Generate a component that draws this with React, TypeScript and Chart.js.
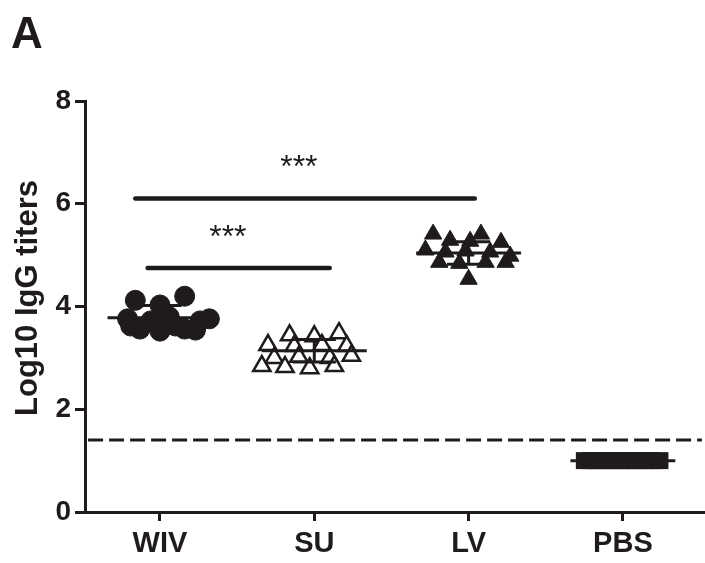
import React, { useEffect, useRef } from 'react';
import { Chart, registerables } from 'chart.js';

Chart.register(...registerables);

const categories = ['WIV', 'SU', 'LV', 'PBS'];
const yTicks = [0, 2, 4, 6, 8];

const wivValues = [4.12, 4.2, 4.03, 3.76, 3.72, 3.8, 3.72, 3.76, 3.56, 3.52, 3.56, 3.62, 3.54, 3.62];
const wivOffsets = [-0.16, 0.16, 0.0, -0.21, -0.06, 0.06, 0.26, 0.32, -0.13, 0.0, 0.16, -0.19, 0.23, 0.1];

const suValues = [3.44, 3.42, 3.48, 3.25, 3.23, 3.25, 3.23, 3.0, 3.02, 3.0, 3.04, 2.84, 2.82, 2.8, 2.84];
const suOffsets = [-0.16, 0.0, 0.16, -0.3, -0.13, 0.05, 0.21, -0.26, -0.1, 0.1, 0.24, -0.34, -0.19, -0.03, 0.13];

const lvValues = [5.41, 5.41, 5.29, 5.27, 5.25, 5.1, 5.06, 5.08, 5.06, 4.98, 4.86, 4.84, 4.86, 4.86, 4.53];
const lvOffsets = [-0.23, 0.08, -0.12, 0.01, 0.21, -0.28, -0.15, -0.02, 0.14, 0.27, -0.19, -0.06, 0.11, 0.24, 0.0];

const pbsValues = [1.0, 1.0, 1.0, 1.0, 1.0, 1.0, 1.0, 1.0, 1.0, 1.0, 1.0, 1.0, 1.0];
const pbsOffsets = [-0.25, -0.21, -0.17, -0.13, -0.09, -0.05, -0.01, 0.03, 0.07, 0.11, 0.15, 0.19, 0.24];

const groupMeans = [3.78, 3.14, 5.04, 1.0];
const groupSDs = [0.24, 0.22, 0.22, 0];

const detectionLimit = 1.4;

const compFrom = [0.84, 0.92];
const compTo = [3.04, 2.1];
const compY = [6.1, 4.75];
const compTextX = [1.9, 1.44];
const compLabels = ['***', '***'];

const X_MIN = 0.514;
const X_MAX = 4.532;
const INK = '#1f1b1c';
const FONT = '"Liberation Sans", Arial, Helvetica, sans-serif';

const textPlugin = {
  id: 'textPlugin',
  afterDraw(chart: any) {
    const ctx = chart.ctx;
    const xs = chart.scales.x;
    const ys = chart.scales.y;
    ctx.save();
    ctx.fillStyle = INK;
    ctx.font = `bold 44px ${FONT}`;
    ctx.textAlign = 'left';
    ctx.textBaseline = 'alphabetic';
    ctx.fillText('A', 11, 48);
    ctx.save();
    ctx.translate(37, 298);
    ctx.rotate(-Math.PI / 2);
    ctx.font = `bold 31px ${FONT}`;
    ctx.textAlign = 'center';
    ctx.textBaseline = 'alphabetic';
    ctx.fillText('Log10 IgG titers', 0, 0);
    ctx.restore();
    ctx.font = `32px ${FONT}`;
    ctx.textAlign = 'center';
    ctx.textBaseline = 'middle';
    for (let i = 0; i < compLabels.length; i++) {
      const px = xs.getPixelForValue(compTextX[i]);
      const py = ys.getPixelForValue(compY[i]) - 30;
      ctx.fillText(compLabels[i], px, py);
    }
    ctx.restore();
  },
};

function scatterData(values: number[], offsets: number[], idx: number) {
  return values.map((v, k) => ({ x: idx + 1 + offsets[k], y: v }));
}

export default function App() {
  const ref = useRef<HTMLCanvasElement | null>(null);
  useEffect(() => {
    if (!ref.current) return;
    const lineDs = (data: any[], extra: any = {}) => ({
      type: 'line',
      data,
      borderColor: INK,
      borderWidth: 3,
      pointRadius: 0,
      showLine: true,
      fill: false,
      order: 0,
      ...extra,
    });
    const datasets: any[] = [];
    groupMeans.forEach((m, i) => {
      const c = i + 1;
      datasets.push(lineDs([{ x: c - 0.34, y: m }, { x: c + 0.34, y: m }]));
      if (groupSDs[i] > 0) {
        datasets.push(lineDs([{ x: c, y: m - groupSDs[i] }, { x: c, y: m + groupSDs[i] }]));
        datasets.push(lineDs([{ x: c - 0.14, y: m + groupSDs[i] }, { x: c + 0.14, y: m + groupSDs[i] }]));
        datasets.push(lineDs([{ x: c - 0.14, y: m - groupSDs[i] }, { x: c + 0.14, y: m - groupSDs[i] }]));
      }
    });
    datasets.push(
      lineDs([{ x: X_MIN + 0.02, y: detectionLimit }, { x: X_MAX - 0.02, y: detectionLimit }], {
        borderDash: [15, 6],
        borderWidth: 3,
      })
    );
    compY.forEach((y, i) => {
      datasets.push(
        lineDs([{ x: compFrom[i], y }, { x: compTo[i], y }], { borderWidth: 4.5, borderCapStyle: 'round' })
      );
    });
    datasets.push({
      type: 'scatter',
      label: categories[0],
      data: scatterData(wivValues, wivOffsets, 0),
      pointStyle: 'circle',
      pointRadius: 10,
      backgroundColor: INK,
      borderColor: INK,
      borderWidth: 1,
      order: 1,
    });
    datasets.push({
      type: 'scatter',
      label: categories[1],
      data: scatterData(suValues, suOffsets, 1),
      pointStyle: 'triangle',
      pointRadius: 10,
      backgroundColor: '#ffffff',
      borderColor: INK,
      borderWidth: 2.5,
      order: 1,
    });
    datasets.push({
      type: 'scatter',
      label: categories[2],
      data: scatterData(lvValues, lvOffsets, 2),
      pointStyle: 'triangle',
      pointRadius: 10,
      backgroundColor: INK,
      borderColor: INK,
      borderWidth: 1,
      order: 1,
    });
    datasets.push({
      type: 'scatter',
      label: categories[3],
      data: scatterData(pbsValues, pbsOffsets, 3),
      pointStyle: 'rect',
      pointRadius: 12,
      backgroundColor: INK,
      borderColor: INK,
      borderWidth: 0,
      order: 1,
    });

    const chart = new Chart(ref.current, {
      type: 'scatter',
      data: { datasets },
      options: {
        responsive: false,
        animation: false,
        devicePixelRatio: 1,
        layout: { autoPadding: false, padding: { top: 101, right: 0, bottom: 0, left: 0 } },
        plugins: { legend: { display: false }, tooltip: { enabled: false } },
        scales: {
          x: {
            type: 'linear',
            min: X_MIN,
            max: X_MAX,
            afterBuildTicks: (scale: any) => {
              scale.ticks = categories.map((_, i) => ({ value: i + 1 }));
            },
            afterFit: (scale: any) => {
              scale.height = 51;
              scale.paddingLeft = 0;
              scale.paddingRight = 0;
            },
            ticks: {
              callback: (v: any) => categories[Math.round(Number(v)) - 1] ?? '',
              color: INK,
              font: { family: FONT, size: 29, weight: 'bold' },
              padding: 6,
              maxRotation: 0,
              autoSkip: false,
            },
            grid: {
              drawOnChartArea: false,
              drawTicks: true,
              tickLength: 9,
              tickWidth: 3,
              tickColor: INK,
            },
            border: { display: true, color: INK, width: 3 },
          },
          y: {
            type: 'linear',
            min: 0,
            max: 8,
            afterBuildTicks: (scale: any) => {
              scale.ticks = yTicks.map((v) => ({ value: v }));
            },
            afterFit: (scale: any) => {
              scale.width = 85;
            },
            ticks: {
              color: INK,
              font: { family: FONT, size: 28, weight: 'bold' },
              padding: 4,
            },
            grid: {
              drawOnChartArea: false,
              drawTicks: true,
              tickLength: 10,
              tickWidth: 3,
              tickColor: INK,
            },
            border: { display: true, color: INK, width: 3 },
          },
        },
      },
      plugins: [textPlugin],
    } as any);
    return () => chart.destroy();
  }, []);

  return (
    <div style={{ position: 'absolute', left: 0, top: 0, width: 705, height: 563, background: '#fff' }}>
      <canvas ref={ref} width={705} height={563} style={{ display: 'block', width: 705, height: 563 }} />
    </div>
  );
}
